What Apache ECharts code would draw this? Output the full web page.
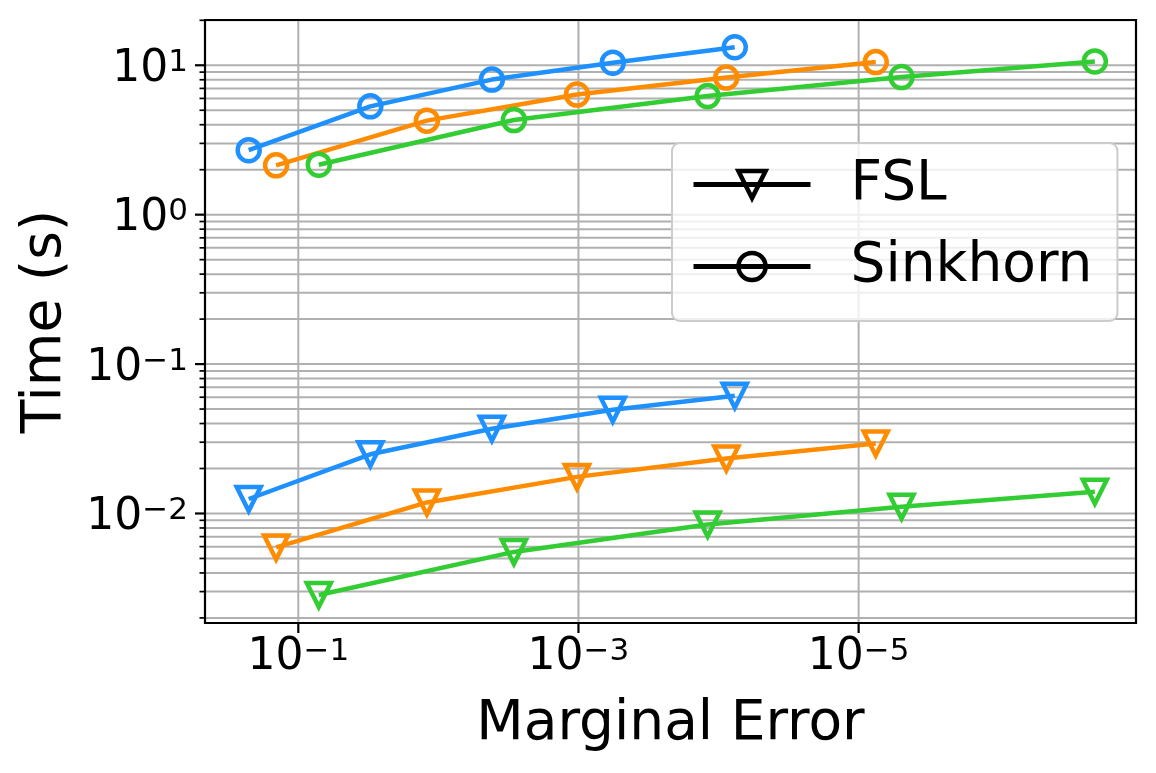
<!DOCTYPE html>
<html>
<head>
<meta charset="utf-8">
<title>FSL vs Sinkhorn</title>
<script src="https://cdn.jsdelivr.net/npm/echarts@6/dist/echarts.min.js"></script>
<style>
  html, body { margin: 0; padding: 0; background: #fff; }
  #chart { width: 1156px; height: 773px; }
</style>
</head>
<body>
<div id="chart"></div>
<script>
// marginal error of each run (FSL and Sinkhorn share the same runs)
const errBlue = [0.226, 0.0306, 0.00415, 5.69e-4, 7.66e-5];
const errOrange = [0.144, 0.01208, 1.025e-3, 8.8e-5, 7.55e-6];
const errGreen = [0.0714, 2.89e-3, 1.197e-4, 4.94e-6, 2.06e-7];

// time in seconds
const fslBlue = [0.0125, 0.0249, 0.0369, 0.0494, 0.0614];
const fslOrange = [0.00593, 0.01186, 0.01758, 0.02334, 0.02937];
const fslGreen = [0.00285, 0.00553, 0.00845, 0.01111, 0.01396];

const sinkBlue = [2.70, 5.31, 8.02, 10.4, 13.2];
const sinkOrange = [2.14, 4.26, 6.37, 8.27, 10.5];
const sinkGreen = [2.16, 4.3, 6.22, 8.34, 10.6];

// decades that get a tick label
const xTickExps = [-5, -3, -1];
const yTickExps = [-2, -1, 0, 1];

// axis limits, in log10 units
const X_MIN = -6.98, X_MAX = -0.334;
const Y_MIN = -2.733, Y_MAX = 1.303;

const FONT = "DejaVu Sans";
const BLUE = "#1e90ff", ORANGE = "#ff8c00", GREEN = "#32cd32";

function logPairs(xs, ys) {
  return xs.map((x, i) => [Math.log10(x), Math.log10(ys[i])]);
}

function curve(name, color, xs, ys, marker) {
  const tri = marker === "v";
  return {
    name,
    type: "line",
    data: xs ? logPairs(xs, ys) : [],
    symbol: tri ? "triangle" : "circle",
    symbolRotate: tri ? 180 : 0,
    symbolSize: tri ? [24, 24] : 22,
    showAllSymbol: true,
    lineStyle: { color, width: 4.5 },
    itemStyle: { color: "rgba(0,0,0,0)", borderColor: color, borderWidth: 4.5 },
    emphasis: { disabled: true },
    z: 3,
  };
}

// minor decade positions 2..9 on the time axis
const yMinorExps = [];
for (let n = Math.floor(Y_MIN); n <= Math.ceil(Y_MAX); n++) {
  for (let k = 2; k <= 9; k++) {
    const v = n + Math.log10(k);
    if (v > Y_MIN && v < Y_MAX) yMinorExps.push(v);
  }
}

function hRule(major) {
  return function (params, api) {
    const cs = params.coordSys;
    const y = api.coord([X_MAX, api.value(1)])[1];
    const len = major ? 10 : 5.5;
    return {
      type: "group",
      children: [
        { type: "line", shape: { x1: cs.x, y1: y, x2: cs.x + cs.width, y2: y },
          style: { stroke: "#b0b0b0", lineWidth: 2 } },
        { type: "line", shape: { x1: cs.x - len, y1: y, x2: cs.x, y2: y },
          style: { stroke: "#000", lineWidth: major ? 2.2 : 1.7 } },
      ],
    };
  };
}

function vRule(params, api) {
  const cs = params.coordSys;
  const x = api.coord([api.value(0), Y_MIN])[0];
  const bottom = cs.y + cs.height;
  return {
    type: "group",
    children: [
      { type: "line", shape: { x1: x, y1: cs.y, x2: x, y2: bottom },
        style: { stroke: "#b0b0b0", lineWidth: 2 } },
      { type: "line", shape: { x1: x, y1: bottom, x2: x, y2: bottom + 10 },
        style: { stroke: "#000", lineWidth: 2.2 } },
    ],
  };
}

function ruleSeries(data, renderItem) {
  return {
    type: "custom",
    data,
    encode: { x: 0, y: 1 },
    renderItem,
    silent: true,
    z: 1,
    legendHoverLink: false,
  };
}

function powLabel(v) {
  const n = Math.round(v);
  if (Math.abs(v - n) > 1e-6) return "";
  return "{b|10}{e|" + (n < 0 ? "\u2212" + -n : n) + "}";
}

const labelRich = {
  b: { fontSize: 44, lineHeight: 44, padding: [8, 0, 0, 0], fontFamily: FONT, color: "#000" },
  e: { fontSize: 31, lineHeight: 31, padding: [4, 0, 0, 0], verticalAlign: "top", fontFamily: FONT, color: "#000" },
};

const chart = echarts.init(document.getElementById("chart"), null, { renderer: "canvas" });

chart.setOption({
  animation: false,
  backgroundColor: "#fff",
  grid: {
    left: 205, right: 20, top: 20, bottom: 150,
    show: true, borderColor: "#000", borderWidth: 2.2, z: 10,
  },
  xAxis: {
    type: "value",
    inverse: true,
    min: X_MIN, max: X_MAX,
    minInterval: 1, maxInterval: 1,
    name: "Marginal Error",
    nameLocation: "middle",
    nameGap: 74,
    nameTextStyle: { fontSize: 55, fontFamily: FONT, color: "#000" },
    axisLine: { show: false },
    axisTick: { show: false },
    splitLine: { show: false },
    axisLabel: {
      customValues: xTickExps,
      margin: 9,
      formatter: (v) => (Math.round(v) % 2 !== 0 ? powLabel(v) : ""),
      rich: labelRich,
    },
  },
  yAxis: {
    type: "value",
    min: Y_MIN, max: Y_MAX,
    minInterval: 1, maxInterval: 1,
    name: "Time (s)",
    nameLocation: "middle",
    nameGap: 132,
    nameTextStyle: { fontSize: 55, fontFamily: FONT, color: "#000" },
    axisLine: { show: false },
    axisTick: { show: false },
    splitLine: { show: false },
    axisLabel: {
      customValues: yTickExps,
      margin: 17,
      formatter: powLabel,
      rich: labelRich,
    },
  },
  legend: {
    data: ["FSL", "Sinkhorn"],
    orient: "vertical",
    left: 672, top: 143,
    itemWidth: 117, itemHeight: 34, itemGap: 27,
    padding: [14, 25, 27, 19],
    backgroundColor: "rgba(255,255,255,0.8)",
    borderColor: "#cccccc", borderWidth: 2, borderRadius: 8,
    textStyle: { fontSize: 55, fontFamily: FONT, color: "#000", padding: [0, 0, 0, 35] },
    lineStyle: { width: 5 },
    itemStyle: { borderWidth: 4.5 },
    selectedMode: false,
  },
  series: [
    ruleSeries(yMinorExps.map((v) => [X_MAX, v]), hRule(false)),
    ruleSeries(yTickExps.map((v) => [X_MAX, v]), hRule(true)),
    ruleSeries(xTickExps.map((v) => [v, Y_MIN]), vRule),
    curve("blueSink", BLUE, errBlue, sinkBlue, "o"),
    curve("orangeSink", ORANGE, errOrange, sinkOrange, "o"),
    curve("greenSink", GREEN, errGreen, sinkGreen, "o"),
    curve("blueFsl", BLUE, errBlue, fslBlue, "v"),
    curve("orangeFsl", ORANGE, errOrange, fslOrange, "v"),
    curve("greenFsl", GREEN, errGreen, fslGreen, "v"),
    curve("FSL", "#000", null, null, "v"),
    curve("Sinkhorn", "#000", null, null, "o"),
  ],
});
</script>
</body>
</html>
